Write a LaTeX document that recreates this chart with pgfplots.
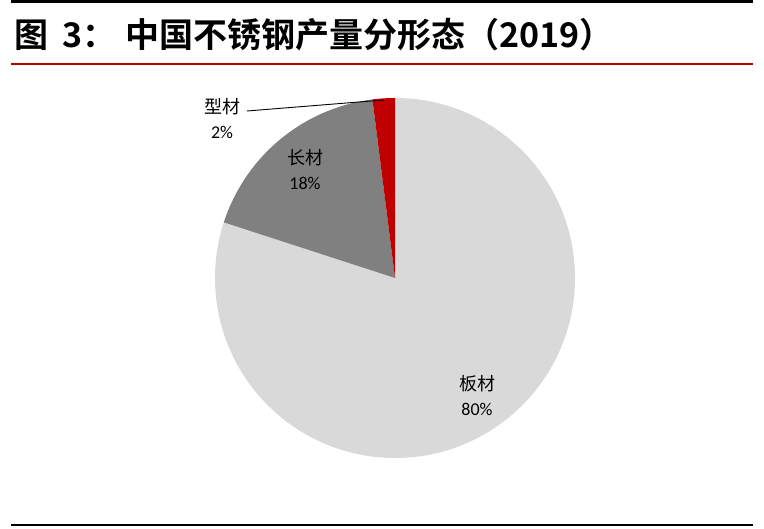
\documentclass[border=0pt]{standalone}
\usepackage{pgfplots}
\pgfplotsset{compat=1.18}
\usepackage{fontspec}
\setmainfont{Carlito}
\newfontfamily\cjk{Noto Sans CJK SC}
\newfontfamily\cjkb{Noto Sans CJK SC Bold}
\definecolor{plateGrey}{HTML}{D9D9D9}
\definecolor{longGrey}{HTML}{808080}
\definecolor{sectionRed}{HTML}{C00000}
\definecolor{ruleRed}{HTML}{C00000}
\begin{document}
\begin{tikzpicture}
\begin{axis}[
    scale only axis,
    width=764pt, height=529pt,
    xmin=0, xmax=764, ymin=0, ymax=529,
    hide axis,
    clip=false,
  ]
  \path (axis cs:0,0) rectangle (axis cs:764,529);
  % shares (%): 板材 80, 长材 18, 型材 2 ; clockwise from 90 deg
  \fill[plateGrey] (axis cs:395,251) -- ++(90:180pt) arc[start angle=90, end angle=-198, radius=180pt] -- cycle;
  \fill[longGrey] (axis cs:395,251) -- ++(-198:180pt) arc[start angle=-198, end angle=-262.8, radius=180pt] -- cycle;
  \fill[sectionRed] (axis cs:395,251) -- ++(-262.8:180pt) arc[start angle=-262.8, end angle=-270, radius=180pt] -- cycle;
  \addplot[black, line width=0.9pt] coordinates {(247,418) (384,429)};
  % rules
  \addplot[black, line width=2.4pt] coordinates {(11,527.6) (753,527.6)};
  \addplot[ruleRed, line width=1.8pt] coordinates {(11,465) (753,465)};
  \addplot[black, line width=2.2pt] coordinates {(11,4) (753,4)};
  % title
  \begin{scope}[every node/.style={inner sep=0pt, font=\fontsize{34}{36}\selectfont\cjkb}]
    \node[anchor=west] at (axis cs:14,494) {图};
    \node[anchor=west] at (axis cs:62,494) {3：};
    \node[anchor=west] at (axis cs:125,494) {中国不锈钢产量分形态（2019）};
  \end{scope}
  % labels
  \node[align=center, inner sep=0pt, font=\fontsize{18}{25}\selectfont] at (axis cs:222,410) {{\cjk 型材}\\2\%};
  \node[align=center, inner sep=0pt, font=\fontsize{18}{25}\selectfont] at (axis cs:305,359) {{\cjk 长材}\\18\%};
  \node[align=center, inner sep=0pt, font=\fontsize{18}{25}\selectfont] at (axis cs:477,133) {{\cjk 板材}\\80\%};
\end{axis}
\end{tikzpicture}
\end{document}
